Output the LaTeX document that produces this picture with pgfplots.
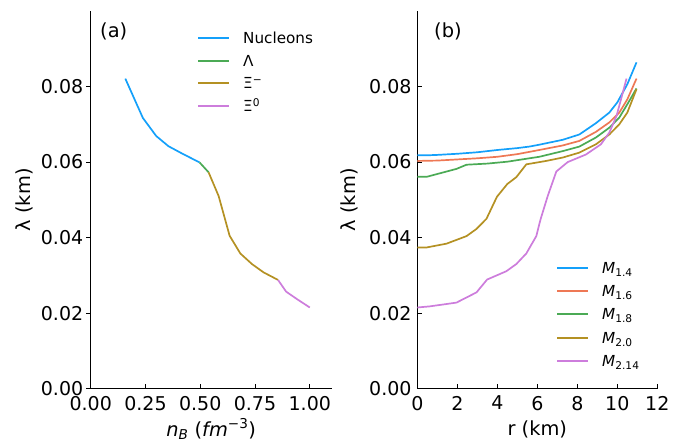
\documentclass[border=0pt]{standalone}
\usepackage{fontspec}
\setmainfont{DejaVu Sans}
\usepackage{pgfplots}
\pgfplotsset{compat=1.18}
\definecolor{cblue}{RGB}{20,160,250}
\definecolor{corange}{RGB}{238,120,85}
\definecolor{cgreen}{RGB}{75,170,85}
\definecolor{colive}{RGB}{180,145,35}
\definecolor{cviolet}{RGB}{205,125,220}
\pgfplotsset{
  mystyle/.style={
    scale only axis, anchor=south west,
    height=377.7pt,
    ymin=0, ymax=0.1,
    ytick={0,0.02,0.04,0.06,0.08},
    axis x line*=bottom, axis y line*=left,
    axis line style={line width=1.2pt, -},
    tick style={line width=1.0pt, black},
    major tick length=4.5pt,
    tick align=inside,
    ticklabel style={font=\fontsize{19}{19}\selectfont},
    /pgf/number format/assume math mode=true,
    y tick label style={/pgf/number format/fixed, /pgf/number format/fixed zerofill, /pgf/number format/precision=2},
    scaled y ticks=false,
    scaled x ticks=false,
    x tick label style={inner sep=0pt, anchor=north, yshift=-7pt},
    every axis plot/.append style={line width=1.7pt},
    legend cell align=left,
    legend style={draw=none, fill=none, font=\fontsize{15.2}{16}\selectfont, inner sep=0pt,
      nodes={inner sep=0pt, text height=11.1pt, text depth=0pt},
      /tikz/every odd column/.append style={column sep=13pt}},
    legend image code/.code={\draw[##1, line width=2pt] (0pt,0pt) -- (31pt,0pt);},
  }
}
\begin{document}
\begin{tikzpicture}[x=1pt,y=1pt]
\useasboundingbox (0,0) rectangle (700,442);
\begin{axis}[mystyle,
  at={(90.7pt,53.3pt)}, width=241pt,
  xmin=0, xmax=1.1,
  xtick={0,0.25,0.5,0.75,1},
  x tick label style={/pgf/number format/fixed, /pgf/number format/fixed zerofill, /pgf/number format/precision=2},
  y tick label style={inner sep=0pt, anchor=east, xshift=-7.3pt},
  y tick style={xshift=-4.5pt},
  xlabel={{\itshape n}\textsubscript{\itshape B} ({\itshape fm}\textsuperscript{−3})},
  ylabel={λ (km)},
  every axis x label/.style={at={(axis description cs:0.5,-0.1266)}, anchor=base, font=\fontsize{19.4}{20}\selectfont},
  every axis y label/.style={at={(axis description cs:-0.2768,0.5)}, rotate=90, anchor=center, font=\fontsize{19.4}{20}\selectfont},
  legend style={at={(axis description cs:0.4411,0.944)}, anchor=north west, row sep=11.6pt},
]
\addplot[cblue] coordinates {(0.158,0.0821) (0.238,0.0717) (0.299,0.0669) (0.355,0.0642) (0.416,0.0623) (0.497,0.0599)};
\addlegendentry{Nucleons}
\addplot[cgreen] coordinates {(0.497,0.0599) (0.538,0.0573)};
\addlegendentry{Λ}
\addplot[colive] coordinates {(0.538,0.0573) (0.584,0.0510) (0.634,0.0405) (0.683,0.0358) (0.736,0.0330) (0.789,0.0308) (0.855,0.0288)};
\addlegendentry{Ξ\textsuperscript{−}}
\addplot[cviolet] coordinates {(0.855,0.0288) (0.892,0.0257) (0.942,0.0237) (1.000,0.0215)};
\addlegendentry{Ξ\textsuperscript{0}}
\end{axis}
\node[anchor=west, inner sep=0pt, font=\fontsize{19.4}{20}\selectfont] at (100,411) {(a)};
\begin{axis}[mystyle,
  at={(417.3pt,53.3pt)}, width=240pt,
  xmin=0, xmax=12,
  xtick={0,2,4,6,8,10,12},
  y tick label style={inner sep=0pt, anchor=east, xshift=-5.6pt},
  xlabel={r (km)},
  ylabel={λ (km)},
  every axis x label/.style={at={(axis description cs:0.5,-0.1239)}, anchor=base, font=\fontsize{19.4}{20}\selectfont},
  every axis y label/.style={at={(axis description cs:-0.2846,0.5)}, rotate=90, anchor=center, font=\fontsize{19.4}{20}\selectfont},
  legend style={at={(axis description cs:0.578,0.335)}, anchor=north west, row sep=12.1pt},
]
\addplot[cblue] coordinates {(0,0.0618) (0.5,0.0618) (1,0.0619) (2,0.0622) (3,0.0626) (4,0.0632) (5,0.0637) (5.6,0.0641) (6.1,0.0646) (7.27,0.0659) (8.1,0.0673) (8.93,0.0703) (9.6,0.0731) (10,0.0758) (10.5,0.0806) (10.96,0.0864)};
\addlegendentry{{\itshape M}\textsubscript{1.4}}
\addplot[corange] coordinates {(0,0.0603) (1,0.0604) (2,0.0607) (3,0.0610) (4,0.0614) (5,0.0621) (5.6,0.0627) (6.1,0.0632) (7.27,0.0644) (8.1,0.0656) (8.93,0.0680) (9.6,0.0705) (10.1,0.0731) (10.5,0.0766) (10.96,0.0821)};
\addlegendentry{{\itshape M}\textsubscript{1.6}}
\addplot[cgreen] coordinates {(0,0.0561) (0.47,0.0561) (1.96,0.0582) (2.46,0.0593) (3.5,0.0596) (4.5,0.0601) (5.6,0.0610) (6.1,0.0614) (7.27,0.0629) (8.1,0.0641) (8.93,0.0665) (9.6,0.0691) (10.1,0.0718) (10.5,0.0753) (10.96,0.0795)};
\addlegendentry{{\itshape M}\textsubscript{1.8}}
\addplot[colive] coordinates {(0,0.0374) (0.47,0.0374) (1.46,0.0384) (2.46,0.0404) (2.96,0.0423) (3.46,0.0450) (3.98,0.0508) (4.5,0.0542) (4.95,0.0560) (5.45,0.0594) (6.44,0.0603) (7.27,0.0612) (8.1,0.0625) (8.93,0.0647) (9.6,0.0673) (10.1,0.0700) (10.5,0.0731) (10.96,0.0793)};
\addlegendentry{{\itshape M}\textsubscript{2.0}}
\addplot[cviolet] coordinates {(0,0.0215) (0.63,0.0218) (1.96,0.0228) (2.96,0.0255) (3.49,0.0289) (4.45,0.0311) (4.95,0.0330) (5.45,0.0358) (5.95,0.0404) (6.16,0.0448) (6.52,0.0510) (6.95,0.0575) (7.52,0.0600) (8.43,0.0620) (9.18,0.0647) (9.6,0.0678) (9.96,0.0722) (10.23,0.0775) (10.46,0.0821)};
\addlegendentry{{\itshape M}\textsubscript{2.14}}
\end{axis}
\node[anchor=west, inner sep=0pt, font=\fontsize{19.4}{20}\selectfont] at (434,411) {(b)};
\end{tikzpicture}
\end{document}
